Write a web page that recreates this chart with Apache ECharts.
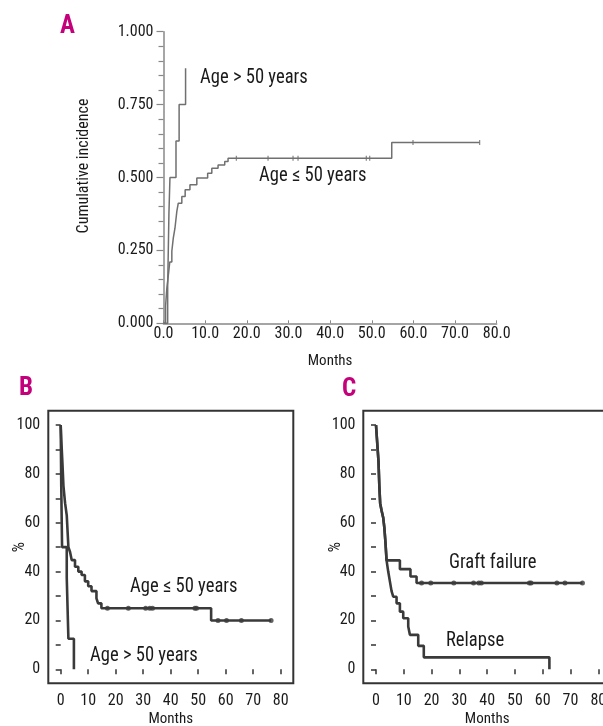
<!DOCTYPE html>
<html><head><meta charset="utf-8">
<script src="https://cdn.jsdelivr.net/npm/echarts@6/dist/echarts.min.js"></script>
<style>html,body{margin:0;padding:0;background:#fff}#c{width:603px;height:726px}</style>
</head><body><div id="c"></div>
<script>
// ---------- Panel A: cumulative incidence ----------
const aYoungMonths = [0, 0.5, 0.8, 1.2, 1.5, 2.0, 2.35, 2.75, 3.2, 3.55, 4.4, 5.2, 6.35, 8.0, 10.6, 11.6, 13.1, 14.7, 15.5, 54.8, 75.9];
const aYoungValues = [0, 0.06, 0.12, 0.17, 0.21, 0.247, 0.292, 0.326, 0.384, 0.412, 0.435, 0.458, 0.475, 0.498, 0.515, 0.532, 0.543, 0.555, 0.566, 0.62, 0.62];
const aYoungCensored = [17.5, 25.1, 31.1, 32.3, 48.7, 49.5, 59.9, 75.9];
const aOldMonths = [0, 1.0, 1.3, 1.55, 3.0, 3.75, 5.3];
const aOldValues = [0, 0.125, 0.375, 0.5, 0.625, 0.75, 0.875];
const aYTickLabels = ['0.000', '0.250', '0.500', '0.750', '1.000'];
const aXTickLabels = ['0.0', '10.0', '20.0', '30.0', '40.0', '50.0', '60.0', '70.0', '80.0'];

// ---------- Panel B: survival by age ----------
const bYoungMonths = [0, 0.3, 0.6, 1.0, 1.6, 2.2, 2.8, 3.4, 4.0, 5.2, 6.4, 7.6, 8.8, 10.0, 11.2, 13.0, 13.6, 14.8, 54.7, 76.5];
const bYoungValues = [100, 92, 85, 75, 68, 63, 50, 48, 44.7, 42, 40, 38.6, 36, 34, 32, 29, 27, 25, 20, 20];
const bYoungCensored = [17, 24.6, 30.9, 32.4, 33.4, 48.8, 49.4, 57.2, 60.3, 65.7, 76.5];
const bOldMonths = [0, 0.2, 0.5, 2.2, 2.8, 4.8];
const bOldValues = [100, 75, 50, 37.5, 12.5, 0];

// ---------- Panel C: graft failure / relapse ----------
const cGraftMonths = [0, 0.3, 0.6, 0.9, 1.2, 1.5, 2.0, 2.6, 3.0, 3.4, 3.8, 8.6, 12.4, 14.6, 74.3];
const cGraftValues = [100, 95, 90, 85, 75, 68, 65, 62, 58, 52, 44.6, 41, 38, 35.3, 35.3];
const cGraftCensored = [16.4, 19.7, 28, 35.1, 37, 37.9, 55.2, 55.8, 65.1, 68, 74.3];
const cRelapseMonths = [0, 0.3, 0.6, 0.9, 1.2, 1.5, 2.0, 2.6, 3.0, 3.4, 3.8, 4.4, 5.0, 5.6, 6.2, 7.4, 8.6, 9.8, 11.6, 12.2, 15.2, 17.2, 62.4];
const cRelapseValues = [100, 95, 90, 85, 75, 68, 65, 62, 58, 52, 44.6, 40, 36, 32, 29.7, 27, 23.6, 20.9, 17.5, 14.1, 9.6, 4.9, 0];

const bcYTickLabels = ['0', '20', '40', '60', '80', '100'];
const bcXTickLabels = ['0', '10', '20', '30', '40', '50', '60', '70', '80'];

// ---------- helpers ----------
function pairs(ts, vs) { return ts.map((t, i) => [t, vs[i]]); }
function stepAt(ts, vs, t) { let v = vs[0]; for (let i = 0; i < ts.length; i++) { if (ts[i] <= t) v = vs[i]; } return v; }
function censorPts(ts, vs, cs) { return cs.map(t => [t, stepAt(ts, vs, t)]); }

const FONT = '"Roboto Condensed", "Open Sans Condensed", "DejaVu Sans Condensed", sans-serif';
const LINE_A = '#707070';
const LINE_BC = '#3a3a3a';
const AX = '#333';
const TXT = '#1a1a1a';
const MAG = '#c4007a';

const chart = echarts.init(document.getElementById('c'), null, { renderer: 'canvas' });

const bcYAxis = (gi) => ({
  type: 'value', gridIndex: gi, min: 0, max: 100, interval: 10, offset: 12.5,
  axisLine: { show: false }, splitLine: { show: false },
  axisTick: { show: true, length: 5, lineStyle: { color: AX, width: 1.5 } },
  axisLabel: { margin: 8, color: TXT, fontSize: 16, fontFamily: FONT,
    formatter: v => (v % 20 === 0 ? bcYTickLabels[v / 20] : '') },
  name: '%', nameLocation: 'middle', nameRotate: 90, nameGap: 20, nameMoveOverlap: false,
  nameTextStyle: { color: TXT, fontSize: 16, fontFamily: FONT }
});
const bcXAxis = (gi) => ({
  type: 'value', gridIndex: gi, min: 0, max: 80, interval: 10, offset: 14,
  axisLine: { show: false }, splitLine: { show: false },
  axisTick: { show: true, length: 5, lineStyle: { color: AX, width: 1.5 } },
  axisLabel: { margin: 10, color: TXT, fontSize: 16, fontFamily: FONT,
    formatter: v => bcXTickLabels[v / 10] },
  name: 'Months', nameLocation: 'middle', nameGap: 28, nameMoveOverlap: false,
  nameTextStyle: { color: TXT, fontSize: 15, fontFamily: FONT }
});
const hiddenAxis = (gi) => ({ type: 'value', gridIndex: gi, min: 0, max: 1, show: false });

const stepLine = (name, xi, yi, data, color, width) => ({
  name, type: 'line', xAxisIndex: xi, yAxisIndex: yi, step: 'end', data,
  showSymbol: false, symbol: 'none', clip: false, silent: true,
  lineStyle: { color, width }, itemStyle: { color }
});

const note = (text, x, y) => ({ type: 'text', x, y, scaleX: 0.93,
  style: { text, font: '20px ' + FONT, fill: TXT, verticalAlign: 'middle' } });
const letter = (text, x, y) => ({ type: 'text', x, y,
  style: { text, font: 'bold 25px ' + FONT, fill: MAG, verticalAlign: 'middle' } });

const option = {
  animation: false,
  backgroundColor: '#fff',
  textStyle: { fontFamily: FONT },
  grid: [
    { left: 163.5, top: 31.7, width: 333.2, height: 291.6, outerBoundsMode: 'none' },
    { left: 48.3, top: 410.7, width: 245, height: 272.6, show: true, borderColor: '#333', borderWidth: 2, backgroundColor: 'transparent', outerBoundsMode: 'none' },
    { left: 60.7, top: 425, width: 220, height: 244.3, outerBoundsMode: 'none' },
    { left: 363.3, top: 410.7, width: 270, height: 272.6, show: true, borderColor: '#333', borderWidth: 2, backgroundColor: 'transparent', outerBoundsMode: 'none' },
    { left: 376, top: 425, width: 222.3, height: 244.3, outerBoundsMode: 'none' }
  ],
  xAxis: [
    { type: 'value', gridIndex: 0, min: 0, max: 80, interval: 10,
      axisLine: { show: true, lineStyle: { color: '#888', width: 1.5 } },
      axisTick: { show: true, inside: true, length: 3, lineStyle: { color: '#888' } },
      splitLine: { show: false },
      axisLabel: { margin: 3, color: TXT, fontSize: 16, fontFamily: FONT, formatter: v => aXTickLabels[v / 10] },
      name: 'Months', nameLocation: 'middle', nameGap: 30, nameMoveOverlap: false,
      nameTextStyle: { color: TXT, fontSize: 15, fontFamily: FONT } },
    hiddenAxis(1), bcXAxis(2), hiddenAxis(3), bcXAxis(4)
  ],
  yAxis: [
    { type: 'value', gridIndex: 0, min: 0, max: 1, interval: 0.25,
      axisLine: { show: true, lineStyle: { color: '#888', width: 1.5 } },
      axisTick: { show: true, length: 7, lineStyle: { color: '#888', width: 1.2 } },
      minorTick: { show: true, splitNumber: 5, length: 5, lineStyle: { color: '#888', width: 1.2 } },
      splitLine: { show: false },
      axisLabel: { margin: 10, color: TXT, fontSize: 16, fontFamily: FONT, formatter: v => aYTickLabels[Math.round(v / 0.25)] },
      name: 'Cumulative incidence', nameLocation: 'middle', nameRotate: 90, nameGap: 72, nameMoveOverlap: false,
      nameTextStyle: { color: TXT, fontSize: 16, fontFamily: FONT, padding: [0, 0, 0, 23] } },
    hiddenAxis(1), bcYAxis(2), hiddenAxis(3), bcYAxis(4)
  ],
  series: [
    stepLine('A age<=50', 0, 0, pairs(aYoungMonths, aYoungValues), LINE_A, 1.5),
    stepLine('A age>50', 0, 0, pairs(aOldMonths, aOldValues), LINE_A, 1.5),
    { type: 'scatter', xAxisIndex: 0, yAxisIndex: 0, symbol: 'rect', symbolSize: [1.3, 5], silent: true,
      itemStyle: { color: LINE_A }, data: censorPts(aYoungMonths, aYoungValues, aYoungCensored) },

    stepLine('B age<=50', 2, 2, pairs(bYoungMonths, bYoungValues), LINE_BC, 2.6),
    stepLine('B age>50', 2, 2, pairs(bOldMonths, bOldValues), LINE_BC, 2.6),
    { type: 'scatter', xAxisIndex: 2, yAxisIndex: 2, symbol: 'circle', symbolSize: 5, silent: true,
      itemStyle: { color: LINE_BC }, data: censorPts(bYoungMonths, bYoungValues, bYoungCensored) },

    stepLine('C graft failure', 4, 4, pairs(cGraftMonths, cGraftValues), LINE_BC, 2.6),
    stepLine('C relapse', 4, 4, pairs(cRelapseMonths, cRelapseValues), LINE_BC, 2.6),
    { type: 'scatter', xAxisIndex: 4, yAxisIndex: 4, symbol: 'circle', symbolSize: 5, silent: true,
      itemStyle: { color: LINE_BC }, data: censorPts(cGraftMonths, cGraftValues, cGraftCensored) }
  ],
  graphic: [
    letter('A', 60, 27),
    letter('B', 19, 389),
    letter('C', 342, 390),
    note('Age > 50 years', 200, 78),
    note('Age \u2264 50 years', 259, 176),
    note('Age \u2264 50 years', 130, 587),
    note('Age > 50 years', 90, 656),
    note('Graft failure', 449, 563),
    note('Relapse', 446, 641)
  ]
};
chart.setOption(option);
</script>
</body></html>
